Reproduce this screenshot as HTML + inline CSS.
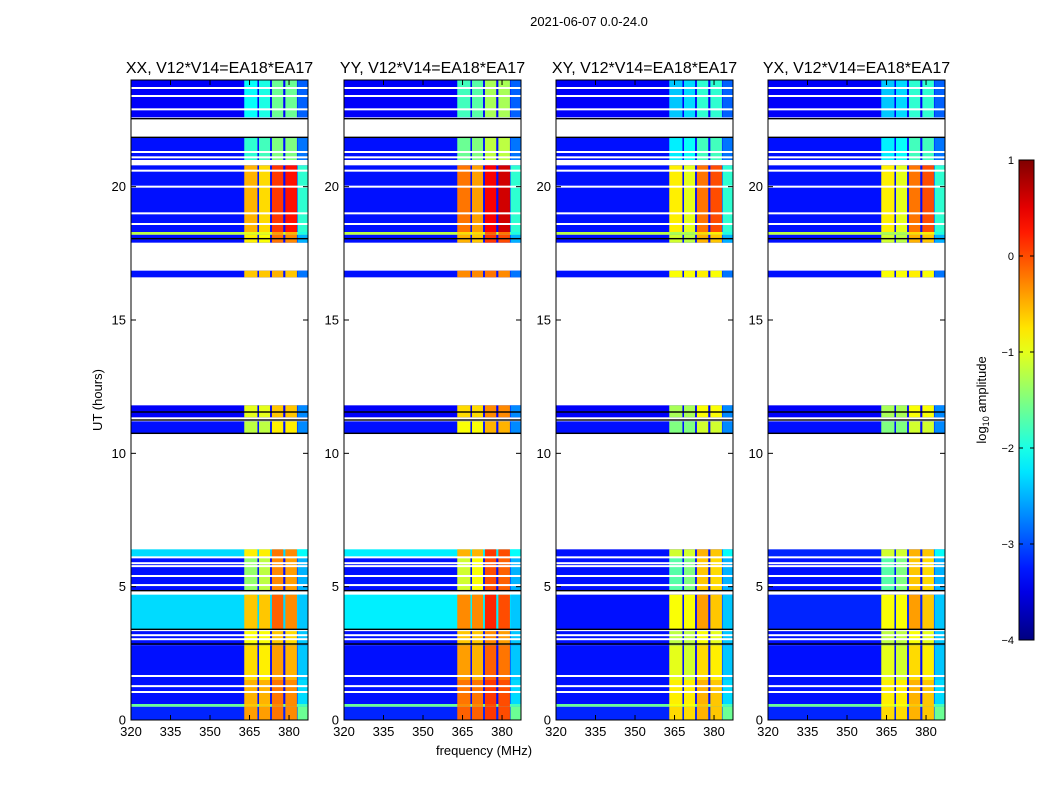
<!DOCTYPE html>
<html><head><meta charset="utf-8">
<style>
body{margin:0;background:#fff;font-family:"Liberation Sans",sans-serif;}
svg{display:block}
text{font-family:"Liberation Sans",sans-serif;fill:#000}
</style></head>
<body>
<svg id="chart" width="1050" height="800" xmlns="http://www.w3.org/2000/svg"></svg>
<script>
// ---- data ----
const panelTitles = ["XX, V12*V14=EA18*EA17","YY, V12*V14=EA18*EA17","XY, V12*V14=EA18*EA17","YX, V12*V14=EA18*EA17"];
const panelBandOffset = [0, 0.3, -0.3, -0.3];
const panelCyanBg = [-2.3, -2.2, -3.3, -3.2];
// time blocks [startHour, endHour]
const blockStart = [0, 0.5, 0.6, 1.5, 2.8, 3.4, 4.85, 6.1, 10.75, 11.35, 16.6, 17.9, 18.2, 18.3, 21.0, 22.6];
const blockEnd   = [0.5, 0.6, 1.5, 2.8, 3.4, 4.7, 6.1, 6.4, 11.2, 11.8, 16.85, 18.2, 18.3, 20.8, 21.85, 24];
// background level (log10 amp), -99 means use panel cyan level
const blockBg = [-3.2, -1.6, -3.3, -3.3, -3.3, -99, -3.3, -99, -3.3, -3.4, -3.3, -3.3, -1.2, -3.3, -3.3, -3.4];
// band levels for 4 bright bands + edge region
const band1 = [-0.4, -0.6, -0.5, -0.7, -0.9, -0.6, -1.4, -0.8, -1.2, -1.0, -0.6, -0.8, -1.0, -0.5, -1.9, -2.1];
const band2 = [-0.4, -0.6, -0.5, -0.8, -0.9, -0.6, -1.2, -0.8, -1.2, -1.0, -0.6, -0.9, -1.0, -0.7, -1.8, -2.0];
const band3 = [-0.2, -0.3, -0.2, -0.4, -0.6, -0.1, -0.3, -0.2, -0.8, -0.6, -0.5, -0.2, -0.4, 0.1, -1.5, -1.6];
const band4 = [-0.3, -0.3, -0.3, -0.5, -0.7, -0.3, -0.4, -0.3, -0.8, -0.6, -0.6, -0.3, -0.5, 0.3, -1.5, -1.6];
const bandEdge = [-1.6, -1.8, -2.3, -2.4, -2.4, -2.4, -2.5, -2.1, -2.7, -2.7, -2.8, -2.5, -2.0, -1.9, -2.8, -2.9];
// frequency bands (MHz)
const bandLo = [363, 368.6, 373.5, 378.6, 383.2];
const bandHi = [368, 372.8, 377.8, 383.0, 387.2];
// white gap rows (hours)
const gapTimes = [1.05, 1.27, 1.65, 3.03, 3.18, 3.37, 5.06, 5.4, 5.77, 5.88, 6.1, 20.0, 19.0, 18.6, 20.6, 21.1, 21.3, 22.9, 23.4, 23.7];
const darkTimes = [2.85, 3.4, 4.85, 11.25, 11.55, 10.75, 18.05, 21.85, 22.55];
const yTicks = [0, 5, 10, 15, 20];
const xTicks = [320, 335, 350, 365, 380];
const cbTicks = [1, 0, -1, -2, -3, -4];

// ---- layout ----
const panelLeft = [131, 344, 556, 768];
const PW = 177, PT = 80, PH = 640;
const FMIN = 320, FMAX = 387.2, TMAX = 24;
const svg = document.getElementById('chart');
const NS = 'http://www.w3.org/2000/svg';
function el(tag, attrs, parent){const e=document.createElementNS(NS,tag);for(const k in attrs)e.setAttribute(k,attrs[k]);(parent||svg).appendChild(e);return e;}
function jet(v){let t=Math.max(0,Math.min(1,(v+4)/5));const c=x=>Math.round(255*Math.max(0,Math.min(1,1.5-Math.abs(4*t-x))));return `rgb(${c(3)},${c(2)},${c(1)})`;}
function yScale(h){return PT+PH-h*PH/TMAX;}

el('text',{x:589,y:26,'font-size':13,'text-anchor':'middle'}).textContent='2021-06-07 0.0-24.0';

panelLeft.forEach((L,p)=>{
  const xs=f=>L+(f-FMIN)*PW/(FMAX-FMIN);
  const g=el('g',{});
  
  
  blockStart.forEach((s,i)=>{
    const y1=yScale(blockEnd[i]), y2=yScale(s);
    const bg = blockBg[i]===-99 ? panelCyanBg[p] : blockBg[i];
    const r=el('rect',{x:L,y:y1,width:PW,height:y2-y1,fill:jet(bg)},g);
    
    
    const lv=[band1[i],band2[i],band3[i],band4[i]];
    lv.forEach((v,b)=>{
      const c=el('rect',{x:xs(bandLo[b]),y:y1,width:xs(bandHi[b])-xs(bandLo[b]),height:y2-y1,fill:jet(v+panelBandOffset[p])},g);
      
      
    });
    const e=el('rect',{x:xs(bandLo[4]),y:y1,width:xs(bandHi[4])-xs(bandLo[4]),height:y2-y1,fill:jet(bandEdge[i])},g);
    
    
  });
  gapTimes.forEach(t=>{
    const r=el('rect',{x:L,y:yScale(t)-1,width:PW,height:2,fill:'#fff'},g);
    
    
  });
  darkTimes.forEach(t=>{
    const r=el('rect',{x:L,y:yScale(t)-0.7,width:PW,height:1.4,fill:'#000'},g);
    
    
  });
  const fr=el('rect',{x:L,y:PT,width:PW,height:PH,fill:'none',stroke:'#000','stroke-width':1});
  
  
  const tt=el('text',{x:L+PW/2,y:73,'font-size':16,'text-anchor':'middle'});
  tt.textContent=panelTitles[p];
  
  
  yTicks.forEach(h=>{
    const y=yScale(h);
    el('line',{x1:L,x2:L+5,y1:y,y2:y,stroke:'#000'});
    el('line',{x1:L+PW-5,x2:L+PW,y1:y,y2:y,stroke:'#000'});
    const t=el('text',{x:L-5,y:y+4.5,'font-size':13,'text-anchor':'end'});
    t.textContent=h;
    
    
  });
  xTicks.forEach(f=>{
    const x=xs(f);
    el('line',{x1:x,x2:x,y1:PT+PH,y2:PT+PH-5,stroke:'#000'});
    el('line',{x1:x,x2:x,y1:PT,y2:PT+5,stroke:'#000'});
    const t=el('text',{x:x,y:736,'font-size':13,'text-anchor':'middle'});
    t.textContent=f;
    
    
  });
});

const yl=el('text',{x:0,y:0,'font-size':13,'text-anchor':'middle',transform:'translate(102,400) rotate(-90)'});
yl.textContent='UT (hours)';


const xl=el('text',{x:484,y:755,'font-size':13,'text-anchor':'middle'});
xl.textContent='frequency (MHz)';



// colorbar
const defs=el('defs',{});
const lg=el('linearGradient',{id:'jetg',x1:0,y1:1,x2:0,y2:0},defs);
for(let i=0;i<=20;i++){el('stop',{offset:i/20,'stop-color':jet(-4+5*i/20)},lg);}
const cb=el('rect',{x:1019,y:160,width:15,height:480,fill:'url(#jetg)',stroke:'#000'});


cbTicks.forEach(v=>{
  const y=640-(v+4)*480/5;
  el('line',{x1:1019,x2:1023,y1:y,y2:y,stroke:'#000'});
  el('line',{x1:1030,x2:1034,y1:y,y2:y,stroke:'#000'});
  const t=el('text',{x:1014,y:y+4,'font-size':11,'text-anchor':'end'});
  t.textContent=v<0?'\u2212'+(-v):v;
  
  
});
const cl=el('text',{x:0,y:0,'font-size':13,'text-anchor':'middle',transform:'translate(986,400) rotate(-90)'});
cl.innerHTML='log<tspan font-size="9" dy="3">10</tspan><tspan dy="-3"> amplitude</tspan>';


</script>
</body></html>
